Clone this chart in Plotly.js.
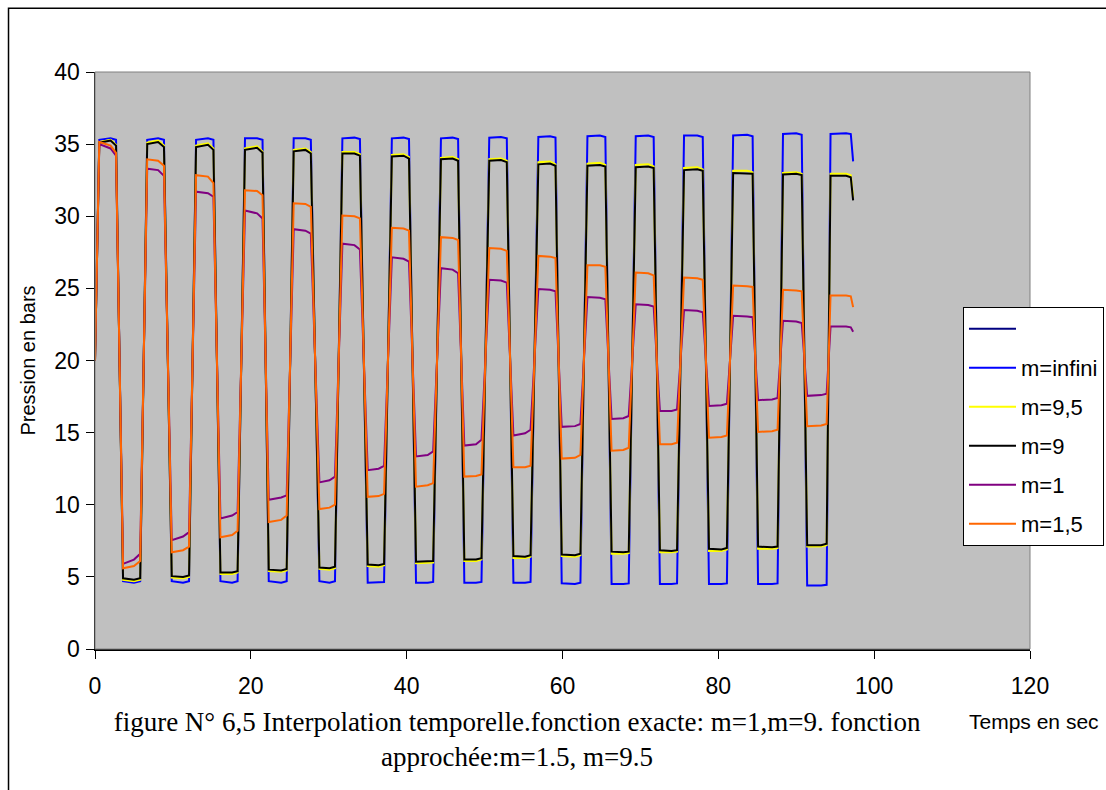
<!DOCTYPE html>
<html>
<head>
<meta charset="utf-8">
<script src="https://cdn.plot.ly/plotly-3.0.1.min.js"></script>
<style>
  html, body { margin: 0; padding: 0; background: #fff; }
  #chart { width: 1106px; height: 790px; }
</style>
</head>
<body>
<div id="chart"></div>
<script>
// Time (s): start, then for each pressure plateau / trough: start, middle, end
const time = [
  0,
  0.55, 2.0, 2.7,     3.6, 5.0, 5.8,
  6.7, 8.1, 8.85,     9.85, 11.3, 12.07,
  12.97, 14.5, 15.2,  16.1, 17.6, 18.3,
  19.25, 20.8, 21.5,  22.3, 23.9, 24.6,
  25.5, 27.0, 27.7,   28.8, 30.1, 30.8,
  31.75, 33.3, 34.0,  35.0, 36.4, 37.1,
  38.1, 39.6, 40.3,   41.2, 42.7, 43.4,
  44.4, 45.9, 46.6,   47.4, 48.9, 49.6,
  50.6, 52.1, 52.85,  53.7, 55.2, 55.9,
  56.9, 58.4, 59.1,   59.9, 61.6, 62.3,
  63.2, 64.8, 65.5,   66.3, 67.8, 68.5,
  69.4, 71.0, 71.7,   72.5, 74.0, 74.7,
  75.6, 77.3, 78.0,   78.8, 80.4, 81.1,
  81.9, 83.7, 84.4,   85.1, 86.9, 87.6,
  88.3, 90.0, 90.7,   91.4, 93.2, 93.9,
  94.4, 96.4, 97.0,
  97.3
];

// first legend entry of the original chart: a series without values
const blankTime = [0];
const blankSeries = [null];

const mInfini = [
  20,
  35.3, 35.4, 35.3,    4.7, 4.6, 4.7,
  35.3, 35.4, 35.3,    4.7, 4.6, 4.7,
  35.3, 35.4, 35.3,    4.7, 4.6, 4.7,
  35.4, 35.4, 35.3,    4.7, 4.6, 4.7,
  35.4, 35.4, 35.3,    4.7, 4.6, 4.7,
  35.4, 35.45, 35.35,  4.6, 4.6, 4.65,
  35.4, 35.45, 35.35,  4.6, 4.6, 4.65,
  35.4, 35.45, 35.35,  4.6, 4.6, 4.65,
  35.45, 35.5, 35.4,   4.6, 4.6, 4.65,
  35.5, 35.55, 35.45,  4.55, 4.5, 4.6,
  35.55, 35.6, 35.5,   4.5, 4.5, 4.55,
  35.55, 35.6, 35.5,   4.5, 4.5, 4.55,
  35.6, 35.6, 35.5,    4.5, 4.5, 4.55,
  35.6, 35.65, 35.55,  4.5, 4.5, 4.55,
  35.7, 35.75, 35.65,  4.4, 4.4, 4.45,
  35.7, 35.75, 35.7,
  33.8
];

const m95 = [
  20,
  35.15, 35.3, 34.95,  4.8, 4.7, 4.8,
  35.1, 35.25, 34.9,   4.95, 4.9, 5.0,
  34.9, 35.05, 34.7,   5.2, 5.2, 5.3,
  34.7, 34.85, 34.5,   5.4, 5.35, 5.45,
  34.6, 34.7, 34.45,   5.55, 5.5, 5.6,
  34.45, 34.45, 34.3,  5.75, 5.7, 5.8,
  34.25, 34.3, 34.1,   5.95, 5.95, 6.0,
  34.05, 34.1, 33.95,  6.1, 6.1, 6.2,
  33.95, 34.0, 33.85,  6.3, 6.3, 6.4,
  33.75, 33.8, 33.6,   6.45, 6.4, 6.5,
  33.65, 33.7, 33.55,  6.6, 6.6, 6.65,
  33.55, 33.6, 33.45,  6.7, 6.7, 6.75,
  33.35, 33.4, 33.25,  6.8, 6.8, 6.9,
  33.15, 33.15, 33.05, 6.95, 6.95, 7.0,
  33.0, 33.05, 32.95,  7.1, 7.1, 7.2,
  32.95, 32.95, 32.85,
  31.3
];

const m9 = [
  20,
  35.1, 35.25, 34.9,   4.9, 4.8, 4.9,
  35.0, 35.15, 34.8,   5.05, 5.0, 5.1,
  34.8, 34.95, 34.6,   5.3, 5.3, 5.4,
  34.6, 34.75, 34.4,   5.5, 5.45, 5.55,
  34.5, 34.6, 34.35,   5.65, 5.6, 5.7,
  34.35, 34.35, 34.2,  5.85, 5.8, 5.9,
  34.15, 34.2, 34.0,   6.05, 6.05, 6.1,
  33.95, 34.0, 33.85,  6.2, 6.2, 6.3,
  33.85, 33.9, 33.75,  6.45, 6.4, 6.5,
  33.6, 33.65, 33.5,   6.55, 6.5, 6.6,
  33.5, 33.55, 33.45,  6.75, 6.7, 6.75,
  33.4, 33.45, 33.35,  6.85, 6.8, 6.85,
  33.2, 33.25, 33.15,  6.95, 6.9, 7.0,
  33.0, 33.0, 32.95,   7.1, 7.05, 7.1,
  32.9, 32.95, 32.85,  7.2, 7.2, 7.3,
  32.8, 32.8, 32.7,
  31.1
];

const m1 = [
  20,
  35.0, 34.7, 34.2,    5.9, 6.2, 6.6,
  33.3, 33.2, 32.8,    7.55, 7.8, 8.1,
  31.7, 31.6, 31.35,   9.05, 9.25, 9.5,
  30.4, 30.2, 29.85,   10.35, 10.5, 10.65,
  29.1, 29.0, 28.8,    11.55, 11.7, 11.95,
  28.1, 28.0, 27.7,    12.4, 12.5, 12.7,
  27.15, 27.05, 26.85, 13.35, 13.45, 13.7,
  26.4, 26.3, 26.05,   14.1, 14.2, 14.5,
  25.6, 25.55, 25.4,   14.8, 14.95, 15.2,
  24.95, 24.9, 24.8,   15.4, 15.45, 15.6,
  24.4, 24.35, 24.25,  15.95, 16.0, 16.15,
  23.9, 23.85, 23.75,  16.5, 16.5, 16.6,
  23.5, 23.45, 23.35,  16.85, 16.9, 17.0,
  23.1, 23.05, 23.0,   17.25, 17.3, 17.4,
  22.75, 22.7, 22.6,   17.55, 17.6, 17.7,
  22.35, 22.35, 22.3,
  22.0
];

const m15 = [
  20,
  35.15, 34.9, 34.4,   5.6, 5.75, 6.1,
  33.95, 33.85, 33.5,  6.7, 6.85, 7.1,
  32.85, 32.75, 32.3,  7.75, 7.9, 8.2,
  31.8, 31.75, 31.45,  8.8, 8.95, 9.25,
  30.9, 30.85, 30.65,  9.7, 9.8, 10.0,
  30.05, 30.0, 29.85,  10.55, 10.6, 10.75,
  29.2, 29.15, 29.0,   11.25, 11.35, 11.5,
  28.55, 28.5, 28.35,  11.95, 12.0, 12.1,
  27.8, 27.75, 27.6,   12.6, 12.6, 12.7,
  27.25, 27.2, 27.1,   13.2, 13.25, 13.45,
  26.6, 26.6, 26.5,    13.75, 13.8, 13.95,
  26.1, 26.05, 25.9,   14.2, 14.2, 14.3,
  25.75, 25.7, 25.6,   14.65, 14.7, 14.8,
  25.2, 25.15, 25.1,   15.05, 15.1, 15.2,
  24.9, 24.85, 24.8,   15.45, 15.5, 15.6,
  24.5, 24.5, 24.45,
  23.7
];

const seriesNames = [' ', 'm=infini', 'm=9,5', 'm=9', 'm=1', 'm=1,5'];
const seriesColors = ['#000080', '#0000FF', '#FFFF00', '#000000', '#800080', '#FF6600'];
const seriesTimes = [blankTime, time, time, time, time, time];
const seriesValues = [blankSeries, mInfini, m95, m9, m1, m15];

const xTickVals = [0, 20, 40, 60, 80, 100, 120];
const yTickVals = [0, 5, 10, 15, 20, 25, 30, 35, 40];

const captionText = 'figure N° 6,5 Interpolation temporelle.fonction exacte: m=1,m=9. fonction<br>approchée:m=1.5, m=9.5';
const xTitle = 'Temps en sec';
const yTitle = 'Pression en bars';

const sans = 'Liberation Sans, Arial, sans-serif';

const traces = seriesValues.map((vals, i) => ({
  type: 'scatter',
  mode: 'lines',
  x: seriesTimes[i],
  y: vals,
  name: seriesNames[i],
  legendgroup: 'g' + i,
  showlegend: true,
  line: { color: seriesColors[i], width: 2 },
  hoverinfo: 'x+y+name'
}));

const layout = {
  width: 1106,
  height: 790,
  margin: { l: 95, r: 76, t: 72, b: 141, pad: 0, autoexpand: false },
  paper_bgcolor: '#ffffff',
  plot_bgcolor: '#C0C0C0',
  showlegend: true,
  title: {
    text: captionText,
    xref: 'container', yref: 'container',
    x: 0.4675, y: 0.075, xanchor: 'center', yanchor: 'middle',
    font: { family: 'Liberation Serif, Times New Roman, serif', size: 27, color: '#000' }
  },
  xaxis: {
    range: [0, 120],
    tickvals: xTickVals,
    ticks: 'outside', ticklen: 8, tickwidth: 1, tickcolor: '#000',
    ticklabelstandoff: 8,
    showline: true, linecolor: '#000', linewidth: 1.5,
    showgrid: false, zeroline: false,
    tickfont: { family: sans, size: 23, color: '#000' }
  },
  yaxis: {
    range: [0, 40],
    tickvals: yTickVals,
    ticks: 'outside', ticklen: 8, tickwidth: 1, tickcolor: '#000',
    ticklabelstandoff: 1,
    showline: true, linecolor: '#000', linewidth: 1.5,
    showgrid: false, zeroline: false,
    tickfont: { family: sans, size: 23, color: '#000' },
    title: { text: yTitle, standoff: 13, font: { family: sans, size: 20, color: '#000' } }
  },
  legend: {
    xref: 'container', yref: 'container',
    x: 0.8707, y: 0.6114, xanchor: 'left', yanchor: 'top',
    bgcolor: '#ffffff', bordercolor: '#000', borderwidth: 1,
    font: { family: sans, size: 22, color: '#000' },
    itemwidth: 47, tracegroupgap: 7.4
  },
  annotations: [
    {
      text: xTitle, xref: 'paper', yref: 'paper',
      x: 1.004, y: -0.1265, xanchor: 'center', yanchor: 'middle',
      showarrow: false,
      font: { family: sans, size: 21, color: '#000' }
    }
  ],
  shapes: [
    { type: 'rect', xref: 'paper', yref: 'paper', x0: 0, x1: 1, y0: 0, y1: 1,
      line: { color: '#808080', width: 1 }, fillcolor: 'rgba(0,0,0,0)', layer: 'above' },
    { type: 'rect', xref: 'paper', yref: 'paper', x0: -0.0925, x1: 1.3, y0: -0.4, y1: 1.1105,
      line: { color: '#000', width: 1.5 }, fillcolor: 'rgba(0,0,0,0)', layer: 'above' }
  ]
};

Plotly.newPlot('chart', traces, layout, { displayModeBar: false, staticPlot: true });
</script>
</body>
</html>
